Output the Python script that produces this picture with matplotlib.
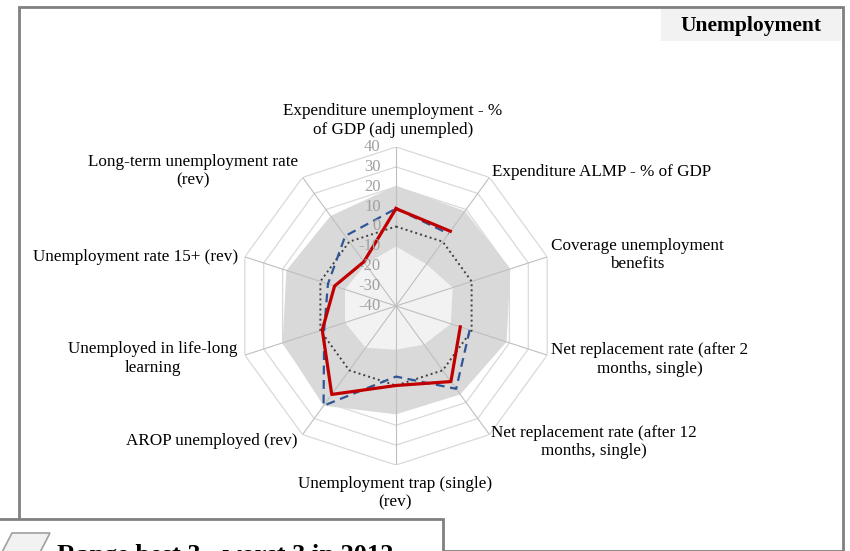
import numpy as np
import matplotlib
matplotlib.use('Agg')
import matplotlib.pyplot as plt
from matplotlib.patches import Rectangle, Polygon

plt.rcParams['font.family'] = ['Liberation Serif', 'DejaVu Serif']

categories = ['Expenditure unemployment - %\nof GDP (adj unempled)',
              'Expenditure ALMP - % of GDP',
              'Coverage unemployment\nbenefits',
              'Net replacement rate (after 2\nmonths, single)',
              'Net replacement rate (after 12\nmonths, single)',
              'Unemployment trap (single)\n(rev)',
              'AROP unemployed (rev)',
              'Unemployed in life-long\nlearning',
              'Unemployment rate 15+ (rev)',
              'Long-term unemployment rate\n(rev)']

best3 = [20.5, 19, 20.5, 18.5, 15, 14.5, 22, 20, 18, 16]
worst3 = [-10, -14, -10, -11, -16, -18, -14, -13, -13, -14]
country_2012 = [9, 6.5, np.nan, -6, 7, 0, 15, -1, -7.5, -12.5]
country_prev = [9, 5, np.nan, -1, 11.5, -4.5, 22, -2, -4, 3.5]
eu_avg = [0, 0, 0, 0, 0, 0, 0, 0, 0, 0]
rticks = [-40, -30, -20, -10, 0, 10, 20, 30, 40]

W, H = 850, 551
fig = plt.figure(figsize=(W / 100, H / 100), dpi=100)

def fx(px):
    return px / W

def fy(py):
    return 1 - py / H

# outer frame
fig.patches.append(Rectangle((fx(19), fy(551)), fx(843) - fx(19), fy(7) - fy(551),
                             transform=fig.transFigure, fill=False,
                             edgecolor='#808080', linewidth=2, zorder=0))

# radar axes: centre (396, 306), radius 159 px
cx, cy, R = 396, 306, 159
ax = fig.add_axes([fx(cx - R), fy(cy + R), 2 * R / W, 2 * R / H], projection='polar')
ax.set_theta_zero_location('N')
ax.set_theta_direction(-1)
ax.set_ylim(-40, 40)
ax.grid(False)
ax.spines['polar'].set_visible(False)
ax.set_xticks([])
ax.set_yticks([])
ax.patch.set_alpha(0)

n = len(categories)
theta = np.arange(n) * 2 * np.pi / n
tc = np.append(theta, theta[0])

def closed(v):
    v = np.asarray(v, dtype=float)
    return np.append(v, v[0])

# polygon grid
for lev in rticks[1:]:
    ax.plot(tc, [lev] * (n + 1), color='#d9d9d9', lw=0.9, zorder=1)

# range band
ax.fill(tc, closed(best3), color='#d9d9d9', lw=0, zorder=2)
ax.fill(tc, closed(worst3), color='#f2f2f2', lw=0, zorder=3)

# spokes
for t in theta:
    ax.plot([t, t], [-40, 40], color='#bfbfbf', lw=0.8, zorder=4)

ax.plot(tc, closed(eu_avg), color='#404040', lw=1.4, ls=(0, (1, 1.6)), zorder=5)
ax.plot(tc, closed(country_prev), color='#2f5597', lw=1.6, ls=(0, (4, 2.5)), zorder=6)
ax.plot(tc, closed(country_2012), color='#c00000', lw=2.3, zorder=7)

# radial tick labels
for v in rticks:
    ax.annotate(str(v), xy=(0, v), xytext=(-11, 0), textcoords='offset points',
                ha='right', va='center', fontsize=12, color='#a0a0a0', zorder=8)

# category labels: offsets in px from the outer vertex
offsets = [(-3, 26.5, 'center'), (3, 5, 'left'), (4, 2, 'left'), (4, -4.5, 'left'),
           (1.5, -7.5, 'left'), (-1, -28.5, 'center'), (-5.5, -6.5, 'right'),
           (-7, -3.5, 'right'), (-7, 0, 'right'), (-4.5, 6, 'right')]
for t, lab, (dx, dy, ha) in zip(theta, categories, offsets):
    ax.annotate(lab, xy=(t, 40), xytext=(dx * 0.72, dy * 0.72), textcoords='offset points',
                ha=ha, va='center', multialignment='center', fontsize=12.3,
                linespacing=1.2, color='black', annotation_clip=False)

# title box
fig.patches.append(Rectangle((fx(661), fy(41)), fx(841) - fx(661), fy(9) - fy(41),
                             transform=fig.transFigure, facecolor='#f2f2f2',
                             edgecolor='none', zorder=1))
fig.text(fx(751), fy(26), 'Unemployment', ha='center', va='center',
         fontsize=15.5, fontweight='bold', zorder=2)

# legend box (cut at bottom edge, as in the source)
fig.patches.append(Rectangle((fx(-3), fy(560)), fx(443) - fx(-3), fy(519) - fy(560),
                             transform=fig.transFigure, facecolor='white',
                             edgecolor='#808080', linewidth=2, zorder=3))
fig.patches.append(Polygon([(fx(12), fy(533)), (fx(50), fy(533)), (fx(36), fy(560)),
                            (fx(-2), fy(560))], closed=True, transform=fig.transFigure,
                           facecolor='#f2f2f2', edgecolor='#a0a0a0', linewidth=1.2,
                           zorder=4))
fig.text(fx(57), fy(544), 'Range best 3 - worst 3 in 2012', ha='left', va='top',
         fontsize=19, fontweight='bold', zorder=5)

fig.savefig('out.png', dpi=100)
